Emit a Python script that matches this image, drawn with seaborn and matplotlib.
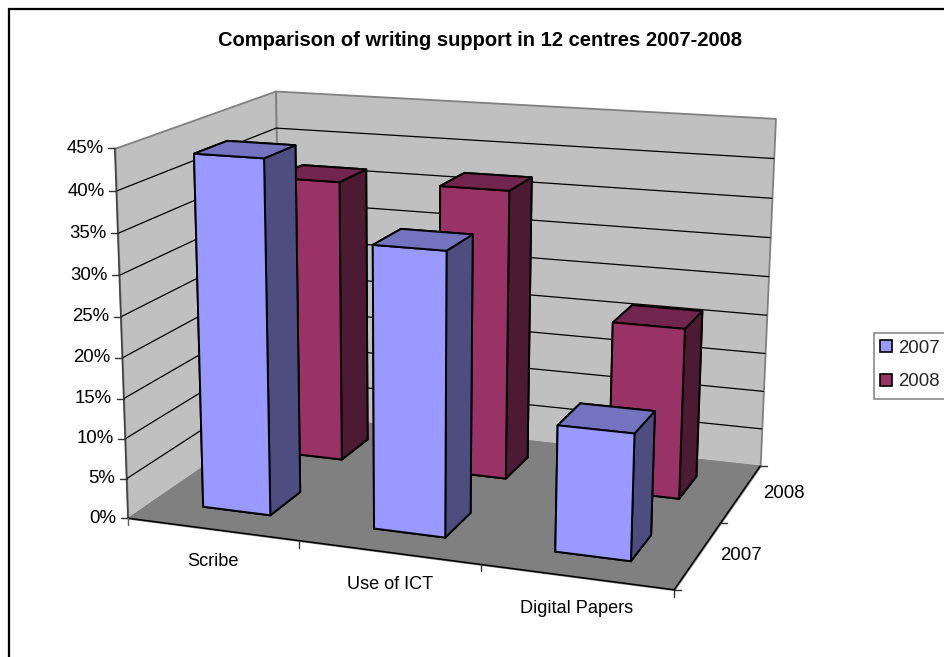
import numpy as np
import matplotlib
matplotlib.use("Agg")
import matplotlib.pyplot as plt
import seaborn as sns
from matplotlib.lines import Line2D
from matplotlib.patches import Patch, Rectangle
from mpl_toolkits.mplot3d import Axes3D  # noqa: F401
from mpl_toolkits.mplot3d.art3d import Poly3DCollection

# Chart data
categories = ["Scribe", "Use of ICT", "Digital Papers"]
series_names = ["2007", "2008"]
values_2007 = [43.6, 34.4, 15.2]
values_2008 = [36.6, 37.0, 21.6]
percent_ticks = [0, 5, 10, 15, 20, 25, 30, 35, 40, 45]
title_text = "Comparison of writing support in 12 centres 2007-2008"

W, H = 944, 657
BAR_SIZE = 0.4
TOP = max(percent_ticks)
NX, NY = len(categories), len(series_names)

sns.set_theme(style="white")
plt.rcParams["font.family"] = ["Liberation Sans", "DejaVu Sans"]
series_colors = sns.color_palette(["#9999FF", "#993366"])

# Camera calibration: box corners in axis units and where they land on the canvas.
box_corners = np.array([
    (0, 0, 0), (NX, 0, 0), (0, NY, 0), (NX, NY, 0),
    (0, 0, TOP), (0, NY, TOP), (NX, NY, TOP),
], dtype=float)
canvas_corners = np.array([
    (129.5, 517.3), (674, 590.7), (279, 414.5), (760.7, 465),
    (113.3, 148.3), (277.3, 90.7), (775, 118.7),
])


def fit_camera(world, image):
    rows = []
    for (x, y, z), (u, v) in zip(world, image):
        rows.append([x, y, z, 1, 0, 0, 0, 0, -u * x, -u * y, -u * z, -u])
        rows.append([0, 0, 0, 0, x, y, z, 1, -v * x, -v * y, -v * z, -v])
    camera = np.linalg.svd(np.array(rows))[2][-1].reshape(3, 4)
    if camera[2] @ np.array([0, 0, 0, 1.0]) < 0:
        camera = -camera
    return camera


CAMERA = fit_camera(box_corners, canvas_corners)


def project(x, y, z):
    u, v, w = CAMERA @ np.array([x, y, z, 1.0])
    return u / w, v / w


fig = plt.figure(figsize=(W / 100, H / 100), dpi=100, facecolor="white")
ax = fig.add_axes([0, 0, 1, 1], projection="3d")
ax.apply_aspect = lambda position=None: None
ax.set_axis_off()
ax.patch.set_alpha(0)
ax.computed_zorder = False


def perspective_matrix():
    to_view = ax.transData.inverted().get_matrix()
    flip = np.array([[1, 0, 0], [0, -1, H], [0, 0, 1.0]])
    q = to_view @ flip @ CAMERA
    return np.array([q[0], q[1], [0, 0, 0, -1.0], q[2]])


ax.get_proj = perspective_matrix

# Walls and floor
panels = [
    ([[0, 0, 0], [0, NY, 0], [0, NY, TOP], [0, 0, TOP]], "#C0C0C0"),
    ([[0, NY, 0], [NX, NY, 0], [NX, NY, TOP], [0, NY, TOP]], "#C0C0C0"),
    ([[0, 0, 0], [NX, 0, 0], [NX, NY, 0], [0, NY, 0]], "#808080"),
]
for verts, colour in panels:
    ax.add_collection3d(Poly3DCollection([verts], facecolors=colour,
                                         edgecolors="#808080", linewidths=1.3,
                                         zorder=1))

# Gridlines run along the side wall and the back wall
for p in percent_ticks[1:-1]:
    ax.plot([0, 0, NX], [0, NY, NY], [p, p, p], color="black", lw=0.9, zorder=2)

# Front edges of the box
ax.plot([0, 0], [0, 0], [0, TOP], color="#404040", lw=1.1, zorder=2)
ax.plot([0, NX], [0, 0], [0, 0], color="black", lw=1.1, zorder=2)
ax.plot([NX, NX], [0, NY], [0, 0], color="black", lw=1.1, zorder=2)


def face_colours(rgb):
    # bar3d order: bottom, top, front, back, left, right
    base = np.array(rgb)
    return [base, base * 0.75, base, base, base * 0.5, base * 0.5]


# Back series first, then the front one, each left to right
order = 3
for j, series in reversed(list(enumerate([values_2007, values_2008]))):
    for i, value in enumerate(series):
        off = (1 - BAR_SIZE) / 2
        ax.bar3d(i + off, j + off, 0, BAR_SIZE, BAR_SIZE, value,
                 color=face_colours(series_colors[j]), shade=False,
                 edgecolor="black", linewidth=1.4, zorder=order)
        order += 1

ax.set_xlim(0, NX)
ax.set_ylim(0, NY)
ax.set_zlim(0, TOP)


def canvas_line(xs, ys, colour="black", lw=1.0):
    fig.add_artist(Line2D(np.array(xs) / W, 1 - np.array(ys) / H, color=colour, lw=lw))


def canvas_text(u, v, text, **kw):
    fig.text(u / W, 1 - v / H, text, color="black", **kw)


LABEL_SIZE = 13.4

# Percent axis
for p in percent_ticks:
    u, v = project(0, 0, p)
    canvas_line([u - 7, u], [v, v], "#303030")
    canvas_text(u - 11.5, v, f"{p}%", ha="right", va="center", fontsize=LABEL_SIZE)
u0, v0 = project(0, 0, 0)
canvas_line([u0, u0], [v0, v0 + 7], "#606060")

# Category axis
for i in range(1, NX + 1):
    u, v = project(i, 0, 0)
    canvas_line([u, u], [v, v + 7], "#303030")
for i, name in enumerate(categories):
    u, v = project(i + 0.5, 0, 0)
    canvas_text(u + 1, v + 32, name, ha="center", va="center", fontsize=13.1)

# Series axis
for j in range(0, NY + 1):
    u, v = project(NX, j, 0)
    canvas_line([u, u + 7], [v, v], "#303030")
for j, name in enumerate(series_names):
    u, v = project(NX, j + 0.5, 0)
    canvas_text(u + 43, v, name, ha="center", va="center", fontsize=LABEL_SIZE)

fig.text(480 / W, 1 - 40.5 / H, title_text, ha="center", va="center",
         fontsize=14.5, fontweight="bold", color="black")

# Legend: a grey box running off the right side, with the entries set inside it
fig.add_artist(Rectangle((874 / W, 1 - 399 / H), 80 / W, 66 / H, transform=fig.transFigure,
                         facecolor="white", edgecolor="#808080", linewidth=1.1))
handles = [Patch(facecolor=c, edgecolor="black", linewidth=1.2) for c in series_colors]
fig.legend(handles, series_names, loc="upper left",
           bbox_to_anchor=(880 / W, 1 - 340 / H), borderaxespad=0, borderpad=0,
           frameon=False, fontsize=LABEL_SIZE, handlelength=0.65, handleheight=0.62,
           handletextpad=0.33, labelspacing=0.88)

# Outer frame runs off the right and bottom of the canvas
fig.add_artist(Rectangle((9 / W, -0.1), 1.1, 1.1 - 9 / H, transform=fig.transFigure,
                         fill=False, edgecolor="black", linewidth=1.6))

fig.savefig("out.png", dpi=100, facecolor="white")
